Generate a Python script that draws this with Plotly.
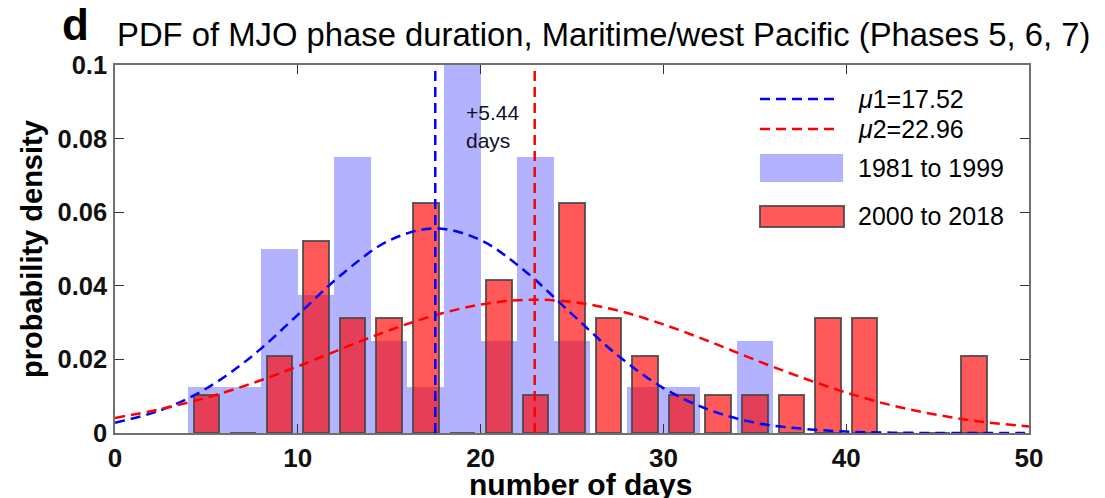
import plotly.graph_objects as go

# ---------------- data ----------------
bin_centers = [5, 7, 9, 11, 13, 15, 17, 19, 21, 23, 25, 27, 29, 31, 33, 35, 37, 39, 41, 43, 45, 47]
pdf_1981_1999 = [0.0125, 0.0125, 0.05, 0.0375, 0.075, 0.025, 0.0125, 0.1, 0.025, 0.075, 0.025, 0,
                 0.0125, 0.0125, 0, 0.025, 0, 0, 0, 0, 0, 0]
pdf_2000_2018 = [0.0104, 0, 0.0208, 0.0521, 0.0313, 0.0313, 0.0625, 0, 0.0417, 0.0104, 0.0625, 0.0313,
                 0.0208, 0.0104, 0.0104, 0.0104, 0.0104, 0.0313, 0.0313, 0, 0, 0.0208]

curve_x = [0, 2.5, 5, 7.5, 10, 12.5, 15, 17.5, 20, 22.5, 25, 27.5, 30, 32.5, 35, 37.5, 40, 42.5, 45, 47.5, 50]
fit_1981_1999 = [0.0028, 0.0062, 0.0121, 0.0209, 0.0321, 0.0435, 0.0523, 0.0556, 0.0524, 0.0437, 0.0323,
                 0.0211, 0.0122, 0.0063, 0.0028, 0.0012, 0.0004, 0.0001, 0.0, 0.0, 0.0]
fit_2000_2018 = [0.0041, 0.0065, 0.0096, 0.0135, 0.0181, 0.0231, 0.0279, 0.0320, 0.0349, 0.0362, 0.0356,
                 0.0333, 0.0295, 0.0249, 0.0199, 0.0152, 0.0110, 0.0075, 0.0049, 0.0030, 0.0018]

mu1 = 17.52
mu2 = 22.96
shift_text = ["+5.44", "days"]
legend_labels = ["<i>μ</i>1=17.52", "<i>μ</i>2=22.96", "1981 to 1999", "2000 to 2018"]
x_ticks = [0, 10, 20, 30, 40, 50]
y_ticks = [0, 0.02, 0.04, 0.06, 0.08, 0.1]
y_ticktext = ["0", "0.02", "0.04", "0.06", "0.08", "0.1"]

# ---------------- styling ----------------
FONT = "Liberation Sans, Arial, Helvetica, sans-serif"
BLUE_FILL = "rgba(0,0,255,0.30)"
RED_FILL = "rgba(255,0,0,0.65)"
RED_EDGE = "rgba(70,70,70,0.85)"
AX = "#707070"

# plot-area pixel geometry (for legend / titles placed in paper coords)
L, T, W, H = 115, 65, 914, 368
def px(x):
    return (x - L) / W
def py(y):
    return (T + H - y) / H

fig = go.Figure()
fig.add_trace(go.Bar(x=bin_centers, y=pdf_1981_1999, width=2, marker=dict(color=BLUE_FILL, line=dict(width=0)),
                     showlegend=False))
fig.add_trace(go.Bar(x=bin_centers, y=pdf_2000_2018, width=1.4,
                     marker=dict(color=RED_FILL, line=dict(color=RED_EDGE, width=2)), showlegend=False))
fig.add_trace(go.Scatter(x=curve_x, y=fit_1981_1999, mode="lines", line=dict(color="#0000ff", width=2.5, dash="10px,6px", shape="spline"),
                         showlegend=False))
fig.add_trace(go.Scatter(x=curve_x, y=fit_2000_2018, mode="lines", line=dict(color="#ff0000", width=2.5, dash="10px,6px", shape="spline"),
                         showlegend=False))
fig.add_trace(go.Scatter(x=[mu1, mu1], y=[0, 0.1], mode="lines", line=dict(color="#0000ff", width=2.5, dash="10px,6px"),
                         showlegend=False))
fig.add_trace(go.Scatter(x=[mu2, mu2], y=[0, 0.1], mode="lines", line=dict(color="#ff0000", width=2.5, dash="10px,6px"),
                         showlegend=False, cliponaxis=False))

annotations = [
    dict(x=19.1, y=0.0872, xref="x", yref="y", text=shift_text[0], showarrow=False, xanchor="left", yanchor="middle",
         font=dict(family=FONT, size=21, color="#10102a")),
    dict(x=19.1, y=0.0796, xref="x", yref="y", text=shift_text[1], showarrow=False, xanchor="left", yanchor="middle",
         font=dict(family=FONT, size=21, color="#10102a")),
    # panel letter and title
    dict(x=px(60), y=py(25), xref="paper", yref="paper", text="<b>d</b>", showarrow=False, xanchor="left", yanchor="middle",
         font=dict(family=FONT, size=44, color="black")),
    dict(x=px(115), y=py(35), xref="paper", yref="paper",
         text="PDF of MJO phase duration, Maritime/west Pacific (Phases 5, 6, 7)", showarrow=False,
         xanchor="left", yanchor="middle", font=dict(family=FONT, size=32.8, color="black")),
    # axis titles
    dict(x=px(580), y=py(484), xref="paper", yref="paper", text="<b>number of days</b>", showarrow=False,
         xanchor="center", yanchor="middle", font=dict(family=FONT, size=30, color="black")),
    dict(x=px(32), y=0.5, xref="paper", yref="paper", text="<b>probability density</b>", showarrow=False, textangle=-90,
         xanchor="center", yanchor="middle", font=dict(family=FONT, size=29, color="black")),
]

# manual legend
shapes = []
legend_rows_y = [99, 129, 168, 216]
shapes.append(dict(type="line", xref="paper", yref="paper", x0=px(760), x1=px(840), y0=py(99), y1=py(99),
                   line=dict(color="#0000ff", width=2.5, dash="10px,6px")))
shapes.append(dict(type="line", xref="paper", yref="paper", x0=px(760), x1=px(840), y0=py(129), y1=py(129),
                   line=dict(color="#ff0000", width=2.5, dash="10px,6px")))
shapes.append(dict(type="rect", xref="paper", yref="paper", x0=px(760), x1=px(843), y0=py(182), y1=py(154),
                   fillcolor=BLUE_FILL, line=dict(width=0)))
shapes.append(dict(type="rect", xref="paper", yref="paper", x0=px(760), x1=px(844), y0=py(227), y1=py(206),
                   fillcolor=RED_FILL, line=dict(color=RED_EDGE, width=2)))
for lab, yy in zip(legend_labels, legend_rows_y):
    annotations.append(dict(x=px(856), y=py(yy), xref="paper", yref="paper", text=lab, showarrow=False,
                            xanchor="left", yanchor="middle", font=dict(family=FONT, size=25, color="black")))

fig.update_layout(
    width=1105, height=498,
    margin=dict(l=L, r=1105 - L - W, t=T, b=498 - T - H, autoexpand=False),
    paper_bgcolor="white", plot_bgcolor="white",
    barmode="overlay", bargap=0,
    annotations=annotations, shapes=shapes,
    showlegend=False,
)
fig.update_xaxes(range=[0, 50], tickvals=x_ticks, ticks="inside", ticklen=9, tickwidth=1.2, tickcolor="#333",
                 showline=True, linecolor=AX, linewidth=1.5, mirror="ticks", showgrid=False, zeroline=False,
                 tickfont=dict(family=FONT, size=26, color="#111", weight="bold"), ticklabelstandoff=1)
fig.update_yaxes(range=[0, 0.1], tickvals=y_ticks, ticktext=y_ticktext, ticks="inside", ticklen=9, tickwidth=1.2,
                 tickcolor="#333", showline=True, linecolor=AX, linewidth=1.5, mirror="ticks", showgrid=False,
                 zeroline=False, tickfont=dict(family=FONT, size=25.5, color="#111", weight="bold"), ticklabelstandoff=1)

fig.write_html("out.html", config={"displayModeBar": False},
               post_script="document.body.style.margin='0';document.body.style.padding='0';")
